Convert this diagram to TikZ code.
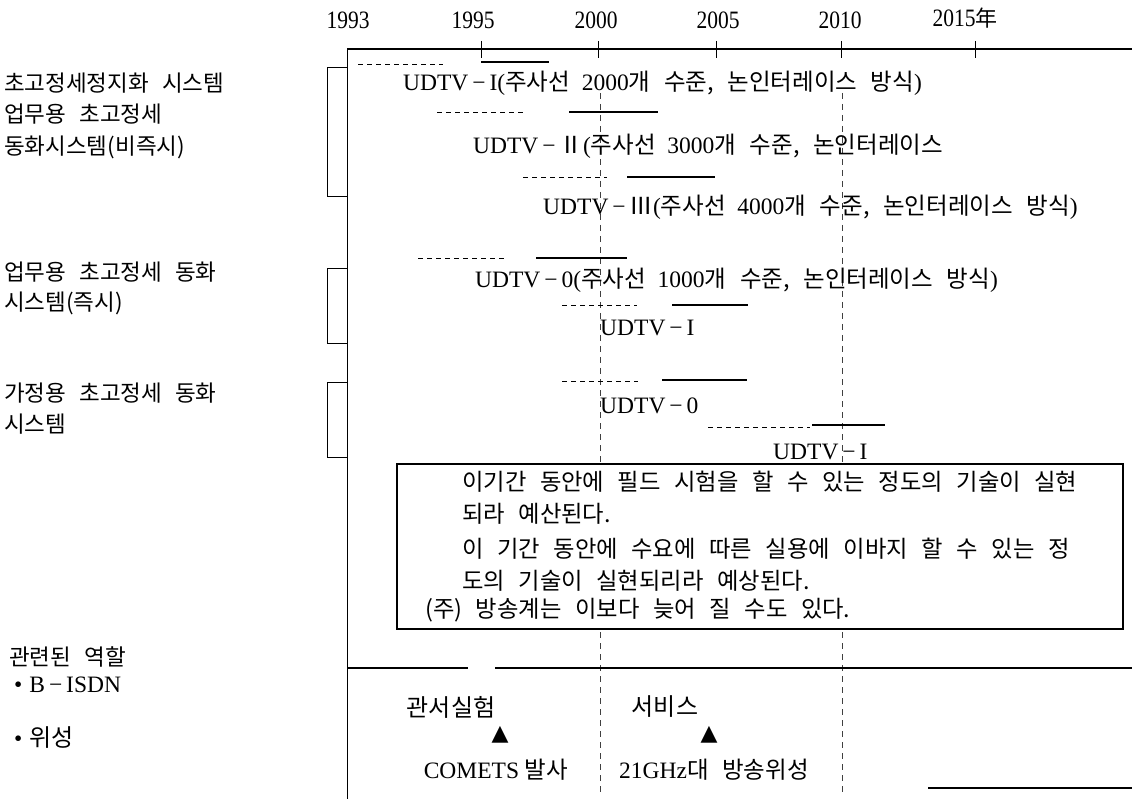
\documentclass[tikz,border=0pt]{standalone}
\usepackage{fontspec}
\setmainfont{Liberation Serif}
\newfontfamily\K{Noto Sans CJK KR}[WordSpace=2.6]
\newfontfamily\DV{DejaVu Sans}
\newfontfamily\yrf{Liberation Serif}[FakeStretch=0.86]
\newcommand\kk[1]{{\K #1}}
\begin{document}
\begin{tikzpicture}[x=1pt,y=-1pt,
  yr/.style={inner sep=0pt, font=\yrf\fontsize{25}{30}\selectfont},
  rowtxt/.style={inner sep=0pt, anchor=west, font=\fontsize{23.5}{28}\selectfont},
  lbl/.style={inner sep=0pt, anchor=west, font=\K\fontsize{22.5}{26}\selectfont},
  notetxt/.style={inner sep=0pt, anchor=west, font=\K\fontsize{23.3}{27}\selectfont},
  btxt/.style={inner sep=0pt, font=\fontsize{23.5}{28}\selectfont},
  axisline/.style={line width=1.3pt},
  thinline/.style={line width=0.9pt},
  bar/.style={line width=1.3pt},
  dbar/.style={line width=1pt, dash pattern=on 5pt off 4pt},
  vdash/.style={line width=0.8pt, dash pattern=on 6pt off 5pt, black!75},
  notebox/.style={draw, line width=2.6pt, fill=white, minimum width=726pt, minimum height=165pt, inner sep=0pt},
]
\useasboundingbox (0,0) rectangle (1132,799);

% year labels
\node[yr] (y1993) at (348,20) {1993};
\node[yr] (y1995) at (473,20) {1995};
\node[yr] (y2000) at (596,20) {2000};
\node[yr] (y2005) at (718,20) {2005};
\node[yr] (y2010) at (840,20) {2010};
\node[yr] (y2015) at (965,18) {2015{\K\fontsize{22}{26}\selectfont 年}};

% axes
\draw[thinline] (347,799) -- (347,49);
\draw[axisline] (347,49) -- (1132,49);
\foreach \x in {481,598,716,841,975} \draw[thinline] (\x,41) -- (\x,58);

% brackets
\draw[thinline] (347,67) -- (327,67) -- (327,196) -- (347,196);
\draw[thinline] (347,268) -- (327,268) -- (327,343) -- (347,343);
\draw[thinline] (347,382) -- (327,382) -- (327,457) -- (347,457);

% vertical dashed year lines
\draw[vdash] (600,93) -- (600,792);
\draw[vdash] (842,93) -- (842,792);

% bars
\draw[dbar] (358,65) -- (443,65);  \draw[bar] (481,62) -- (549,62);
\draw[dbar] (437,113) -- (525,113); \draw[bar] (569,112) -- (658,112);
\draw[dbar] (523,178) -- (607,178); \draw[bar] (627,177) -- (715,177);
\draw[dbar] (418,259) -- (507,259); \draw[bar] (536,258) -- (627,258);
\draw[dbar] (562,306) -- (637,306); \draw[bar] (672,305) -- (748,305);
\draw[dbar] (562,381) -- (638,381); \draw[bar] (662,380) -- (747,380);
\draw[dbar] (708,427) -- (810,427); \draw[bar] (812,425) -- (885,425);

% row texts
\node[rowtxt] (r1) at (403,83) {UDTV\,−\,I(\kk{주사선}\hspace{0.5em}2000\kk{개 수준, 논인터레이스 방식})};
\node[rowtxt] (r2) at (473,146) {UDTV\,−\,\kk{Ⅱ}(\kk{주사선}\hspace{0.5em}3000\kk{개 수준, 논인터레이스}};
\node[rowtxt] (r3) at (543,207) {UDTV\,−\,\kk{Ⅲ}(\kk{주사선}\hspace{0.5em}4000\kk{개 수준, 논인터레이스 방식})};
\node[rowtxt] (r4) at (475,280) {UDTV\,−\,0(\kk{주사선}\hspace{0.5em}1000\kk{개 수준, 논인터레이스 방식})};
\node[rowtxt] (r5) at (600,328) {UDTV\,−\,I};
\node[rowtxt] (r6) at (600,406) {UDTV\,−\,0};
\node[rowtxt] (r7) at (773,452) {UDTV\,−\,I};

% left labels
\node[lbl] (l1) at (4,83) {초고정세정지화 시스템};
\node[lbl] (l2) at (4,114) {업무용 초고정세};
\node[lbl] (l3) at (4,147) {동화시스템(비즉시)};
\node[lbl] (l4) at (4,272) {업무용 초고정세 동화};
\node[lbl] (l5) at (4,303) {시스템(즉시)};
\node[lbl] (l6) at (4,393) {가정용 초고정세 동화};
\node[lbl] (l7) at (4,424) {시스템};

% note box
\node[notebox] (note) at (760,546.5) {};
\node[notetxt] (n1) at (462,482) {이기간 동안에 필드 시험을 할 수 있는 정도의 기술이 실현};
\node[notetxt] (n2) at (462,514) {되라 예산된다.};
\node[notetxt] (n3) at (462,549) {이 기간 동안에 수요에 따른 실용에 이바지 할 수 있는 정};
\node[notetxt] (n4) at (462,581) {도의 기술이 실현되리라 예상된다.};
\node[notetxt] (n5) at (425,610) {(주) 방송계는 이보다 늦어 질 수도 있다.};

% lower section
\draw[axisline] (347,668) -- (468,668);
\draw[axisline] (495,668) -- (1132,668);
\draw[axisline] (928,788) -- (1132,788);

\node[lbl] (rel) at (9,657) {관련된 역할};
\node[rowtxt] (isdn) at (14,685) {•\hspace{0.3em}B\,−\,ISDN};
\node[rowtxt] (sat) at (14,738) {•\hspace{0.3em}\kk{\fontsize{24}{28}\selectfont 위성}};

\node[btxt] (t1) at (451,707) {\kk{\fontsize{24}{28}\selectfont 관서실험}};
\node[btxt] (tri1) at (500,735) {\DV\fontsize{22}{26}\selectfont ▲};
\node[btxt] (c1) at (496,770) {COMETS \kk{발사}};
\node[btxt] (t2) at (665,707) {\kk{\fontsize{24}{28}\selectfont 서비스}};
\node[btxt] (tri2) at (709,735) {\DV\fontsize{22}{26}\selectfont ▲};
\node[btxt] (c2) at (714,770) {21GHz\kk{대 방송위성}};
\end{tikzpicture}
\end{document}
